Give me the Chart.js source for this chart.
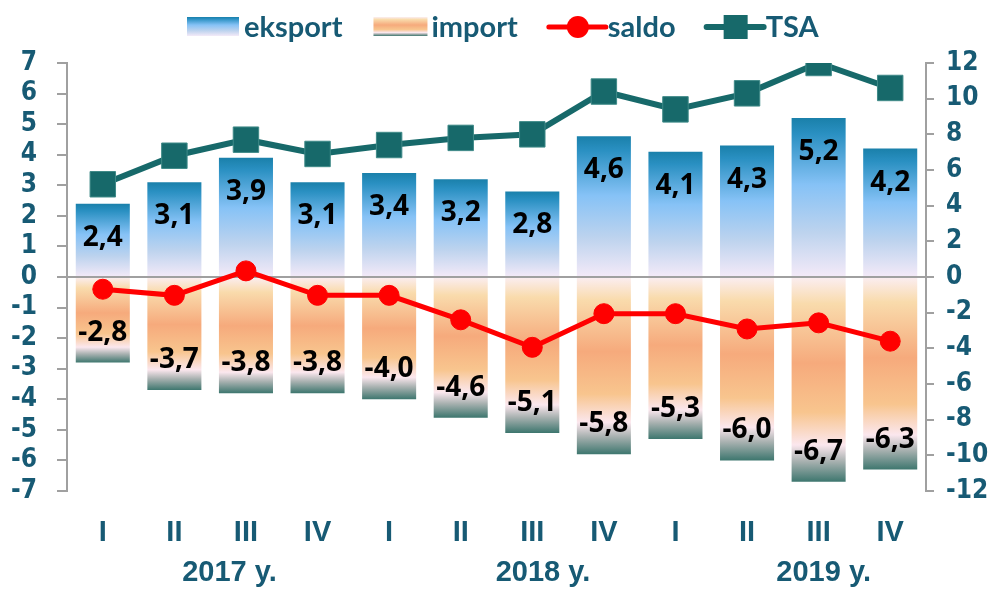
<!DOCTYPE html>
<html>
<head>
<meta charset="utf-8">
<script src="https://cdn.jsdelivr.net/npm/chart.js@4/dist/chart.umd.min.js"></script>
<style>
  html, body { margin: 0; padding: 0; background: #fff; }
  #wrap { width: 988px; height: 590px; }
</style>
</head>
<body>
<div id="wrap"><canvas id="c" width="988" height="590"></canvas></div>
<script>
// data
const quarters = ['I', 'II', 'III', 'IV', 'I', 'II', 'III', 'IV', 'I', 'II', 'III', 'IV'];
const years = ['2017 y.', '2018 y.', '2019 y.'];
const eksport = [2.4, 3.1, 3.9, 3.1, 3.4, 3.2, 2.8, 4.6, 4.1, 4.3, 5.2, 4.2];
const importVals = [-2.8, -3.7, -3.8, -3.8, -4.0, -4.6, -5.1, -5.8, -5.3, -6.0, -6.7, -6.3];
const saldo = [-0.4, -0.6, 0.2, -0.6, -0.6, -1.4, -2.3, -1.2, -1.2, -1.7, -1.5, -2.1];
const tsa = [5.2, 6.8, 7.7, 6.9, 7.4, 7.8, 8.0, 10.4, 9.4, 10.3, 12.0, 10.6];

const TXT = '#175a74';
const RED = '#ff0000';
const TEAL = '#17696a';
const GRAY = '#a0a0a0';

function expGrad(c, y1, y0) {
  const g = c.createLinearGradient(0, y1, 0, y0);
  g.addColorStop(0, '#1a80aa');
  g.addColorStop(0.1, '#2a90c2');
  g.addColorStop(0.42, '#86c2f6');
  g.addColorStop(0.72, '#bdd3ee');
  g.addColorStop(1, '#f4eaf8');
  return g;
}
function impGrad(c, y0, y1) {
  const g = c.createLinearGradient(0, y0, 0, y1);
  g.addColorStop(0, '#fbeef2');
  g.addColorStop(0.13, '#f9dbac');
  g.addColorStop(0.42, '#f6aa7c');
  g.addColorStop(0.66, '#f8c58e');
  g.addColorStop(0.82, '#fbe7ee');
  g.addColorStop(0.9, '#a8b1b0');
  g.addColorStop(1, '#3d766e');
  return g;
}

function barFill(ctx) {
  const chart = ctx.chart;
  if (!chart.chartArea || ctx.type !== 'data') return '#86c2f6';
  const y = chart.scales.y;
  const v = ctx.parsed.y;
  const y0 = y.getPixelForValue(0);
  const y1 = y.getPixelForValue(v);
  return v >= 0 ? expGrad(chart.ctx, y1, y0) : impGrad(chart.ctx, y0, y1);
}

// value labels inside the bars, drawn before the lines
const barLabels = {
  id: 'barLabels',
  afterDatasetDraw(chart, args) {
    if (args.meta.type !== 'bar') return;
    const c = chart.ctx;
    c.save();
    c.font = 'bold 28px "Open Sans"';
    c.fillStyle = '#000';
    c.textAlign = 'center';
    c.textBaseline = 'middle';
    args.meta.data.forEach((bar, i) => {
      const v = chart.data.datasets[args.index].data[i];
      const txt = v.toFixed(1).replace('.', ',');
      const y = v >= 0 ? bar.y + 34 : bar.y - 30;
      c.fillText(txt, bar.x, y);
    });
    c.restore();
  }
};

// year captions under the quarter labels
const yearLabels = {
  id: 'yearLabels',
  afterDraw(chart) {
    const c = chart.ctx;
    const x = chart.scales.x;
    const at = [1.77, 6.15, 10.07];
    c.save();
    c.font = 'bold 29px "Liberation Sans", Arial, sans-serif';
    c.fillStyle = TXT;
    c.textAlign = 'center';
    c.textBaseline = 'middle';
    years.forEach((t, i) => c.fillText(t, x.getPixelForValue(at[i]), 573));
    c.restore();
  }
};

// legend drawn by hand so the line entries get their markers
const legendBox = {
  id: 'legendBox',
  afterDraw(chart) {
    const c = chart.ctx;
    c.save();
    c.font = 'bold 29px Lato';
    c.textBaseline = 'alphabetic';
    const base = 37, mid = 27;
    let x = 187;
    const items = [
      { t: 'eksport', k: 'exp' },
      { t: 'import', k: 'imp' },
      { t: 'saldo', k: 'saldo' },
      { t: 'TSA', k: 'tsa' }
    ];
    items.forEach(it => {
      if (it.k === 'exp') {
        c.fillStyle = expGrad(c, 17, 36);
        c.fillRect(x, 17, 52, 19);
        x += 57;
      } else if (it.k === 'imp') {
        c.fillStyle = impGrad(c, 17, 36);
        c.fillRect(x, 17, 54, 19);
        x += 58;
      } else {
        const col = it.k === 'saldo' ? RED : TEAL;
        c.strokeStyle = col;
        c.lineWidth = it.k === 'saldo' ? 5 : 6;
        c.lineCap = 'round';
        c.beginPath(); c.moveTo(x, mid); c.lineTo(x + 57, mid); c.stroke();
        c.fillStyle = col;
        if (it.k === 'saldo') {
          c.beginPath(); c.arc(x + 29, mid, 11, 0, Math.PI * 2); c.fill();
        } else {
          c.fillRect(x + 29 - 12, mid - 12, 24, 24);
        }
        x += 59;
      }
      c.fillStyle = TXT;
      c.textAlign = 'left';
      c.fillText(it.t, x, base);
      x += c.measureText(it.t).width + 31;
    });
    c.restore();
  }
};

const numFont = { family: '"Liberation Sans Narrow", "DejaVu Sans Condensed", sans-serif', size: 26, weight: 'bold' };

new Chart(document.getElementById('c'), {
  type: 'bar',
  data: {
    labels: quarters,
    datasets: [
      {
        type: 'line', label: 'TSA', data: tsa, yAxisID: 'y2', order: 0,
        borderColor: TEAL, backgroundColor: TEAL, borderWidth: 6,
        pointStyle: 'rect', pointRadius: 18, pointBorderWidth: 1,
        pointBorderColor: '#3f8a88', pointBackgroundColor: TEAL, tension: 0
      },
      {
        type: 'line', label: 'saldo', data: saldo, yAxisID: 'y', order: 1,
        borderColor: RED, backgroundColor: RED, borderWidth: 5,
        pointStyle: 'circle', pointRadius: 10, pointBorderWidth: 1,
        pointBorderColor: RED, pointBackgroundColor: RED, tension: 0
      },
      {
        label: 'eksport', data: eksport, yAxisID: 'y', order: 3,
        backgroundColor: barFill, grouped: false,
        barPercentage: 0.755, categoryPercentage: 1
      },
      {
        label: 'import', data: importVals, yAxisID: 'y', order: 3,
        backgroundColor: barFill, grouped: false,
        barPercentage: 0.755, categoryPercentage: 1
      }
    ]
  },
  options: {
    responsive: false,
    animation: false,
    layout: { padding: { top: 63, left: 0, right: 0, bottom: 0 } },
    plugins: { legend: { display: false }, tooltip: { enabled: false } },
    scales: {
      x: {
        grid: { display: false },
        border: { display: false },
        ticks: {
          color: TXT, padding: 17, maxRotation: 0, autoSkip: false,
          font: { family: '"Liberation Sans", Arial, sans-serif', size: 29, weight: 'bold' }
        },
        afterFit(s) { s.height = 99; }
      },
      y: {
        position: 'left', min: -7, max: 7,
        ticks: { stepSize: 1, autoSkip: false, color: TXT, font: numFont, padding: 20 },
        grid: {
          drawOnChartArea: true, drawTicks: true, tickLength: 10,
          color: c => (c.tick && c.tick.value === 0 ? GRAY : 'rgba(0,0,0,0)'),
          tickColor: GRAY, lineWidth: 2
        },
        border: { display: true, color: GRAY, width: 2 },
        afterFit(s) { s.width = 67; }
      },
      y2: {
        position: 'right', min: -12, max: 12,
        ticks: { stepSize: 2, autoSkip: false, color: TXT, font: numFont, padding: 12 },
        grid: { drawOnChartArea: false, drawTicks: true, tickLength: 8, tickColor: GRAY, lineWidth: 2 },
        border: { display: true, color: GRAY, width: 2 },
        afterFit(s) { s.width = 62; }
      }
    }
  },
  plugins: [barLabels, yearLabels, legendBox]
});
</script>
</body>
</html>
